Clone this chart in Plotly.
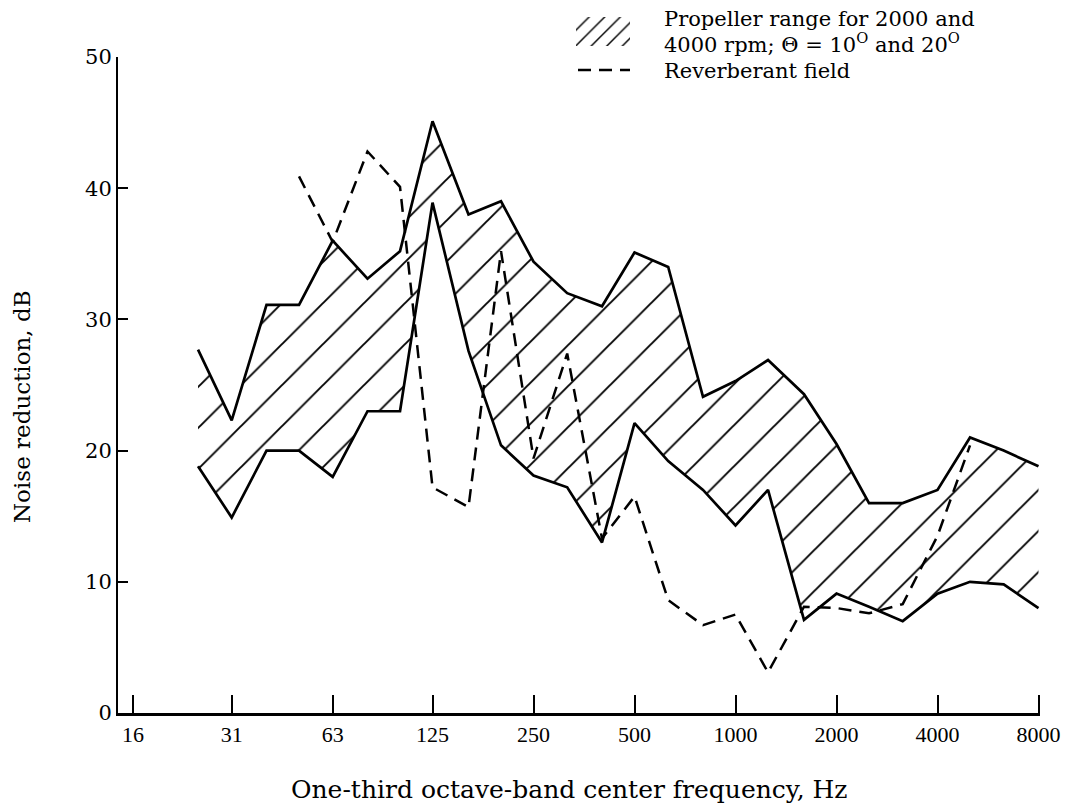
import math
import plotly.graph_objects as go

# One-third octave-band centre frequencies (Hz) for the propeller envelope
bands = [25, 31.5, 40, 50, 63, 80, 100, 125, 160, 200, 250, 315, 400, 500,
         630, 800, 1000, 1250, 1600, 2000, 2500, 3150, 4000, 5000, 6300, 8000]
# Upper and lower bounds of the propeller noise-reduction range (dB)
upper = [27.7, 22.3, 31.1, 31.1, 36.0, 33.1, 35.2, 45.1, 38.0, 39.0, 34.4, 32.0, 31.0,
         35.1, 34.0, 24.1, 25.3, 26.9, 24.3, 20.5, 16.0, 16.0, 17.0, 21.0, 20.0, 18.8]
lower = [18.8, 14.9, 20.0, 20.0, 18.0, 23.0, 23.0, 38.9, 27.6, 20.4, 18.1, 17.2, 13.0,
         22.1, 19.2, 17.0, 14.3, 17.0, 7.1, 9.1, 8.1, 7.0, 9.1, 10.0, 9.8, 8.0]

# Reverberant-field noise reduction (dB)
rev_bands = [50, 63, 80, 100, 125, 160, 200, 250, 315, 400, 500, 630, 800, 1000,
             1250, 1600, 2000, 2500, 3150, 4000, 5000]
rev = [40.9, 35.9, 42.8, 40.1, 17.2, 15.7, 35.2, 19.4, 27.4, 13.3, 16.5, 8.6, 6.7, 7.5,
       3.1, 8.1, 8.0, 7.6, 8.3, 13.5, 20.4]

# Octave tick positions and their labels
tick_freqs = [16, 31.5, 63, 125, 250, 500, 1000, 2000, 4000, 8000]
tick_text = ["16", "31", "63", "125", "250", "500", "1000", "2000", "4000", "8000"]
y_ticks = [0, 10, 20, 30, 40, 50]

W, H = 1076, 806
L, R, T, B = 118, 36, 0, 93
PW, PH = W - L - R, H - T - B

FONT = "DejaVu Serif"
XTICK_FONT = "Liberation Serif"


def fx(px):
    return (px - L) / PW


def fy(py):
    return (H - B - py) / PH


# log-axis range: 16 Hz sits a little right of the y axis, 8000 Hz at the right end
scale = (1038.5 - 133) / (math.log10(8000) - math.log10(16))
x_lo = math.log10(16) - (133 - L) / scale
x_hi = math.log10(8000) + (L + PW - 1038.5) / scale

HATCH = dict(shape="/", fgcolor="black", bgcolor="rgba(0,0,0,0)", fgopacity=1)

fig = go.Figure()

# hatched envelope between the upper and lower bounds
fig.add_trace(go.Scatter(
    x=bands + bands[::-1], y=upper + lower[::-1],
    mode="lines", fill="toself",
    fillcolor="rgba(0,0,0,0)",
    fillpattern=dict(HATCH, size=29, solidity=0.065),
    line=dict(width=0, color="rgba(0,0,0,0)"),
    hoverinfo="skip", showlegend=False,
))
for series in (upper, lower):
    fig.add_trace(go.Scatter(
        x=bands, y=series, mode="lines",
        line=dict(color="black", width=2.7),
        showlegend=False,
    ))

fig.add_trace(go.Scatter(
    x=rev_bands, y=rev, mode="lines",
    line=dict(color="black", width=2.5, dash="13px,8px"),
    showlegend=False,
))

# key: hatched swatch and dashed sample, drawn on a pixel-scaled overlay
fig.add_trace(go.Scatter(
    x=[576, 630, 630, 576, 576], y=[17, 17, 46, 46, 17],
    xaxis="x2", yaxis="y2", mode="lines", fill="toself",
    fillcolor="rgba(0,0,0,0)",
    fillpattern=dict(HATCH, size=11, solidity=0.13),
    line=dict(width=0, color="rgba(0,0,0,0)"),
    hoverinfo="skip", showlegend=False,
))
fig.add_trace(go.Scatter(
    x=[578, 630], y=[70, 70], xaxis="x2", yaxis="y2", mode="lines",
    line=dict(color="black", width=2.5, dash="13px,8px"),
    hoverinfo="skip", showlegend=False,
))

fig.update_layout(
    template="none",
    width=W, height=H,
    margin=dict(l=L, r=R, t=T, b=B, pad=0, autoexpand=False),
    paper_bgcolor="white", plot_bgcolor="white",
    font=dict(family=FONT, color="black"),
    xaxis=dict(
        type="log", range=[x_lo, x_hi], domain=[0, 1],
        tickvals=tick_freqs, ticktext=tick_text,
        ticks="inside", ticklen=18, tickwidth=1.6, tickcolor="black",
        showline=True, linecolor="black", linewidth=2.6,
        showgrid=False, zeroline=False, automargin=False,
        tickfont=dict(family=XTICK_FONT, size=22, color="black"),
        anchor="y",
    ),
    yaxis=dict(
        range=[0, 50], domain=[0, fy(57)],
        tickvals=y_ticks,
        ticks="inside", ticklen=10, tickwidth=1.6, tickcolor="black",
        showline=True, linecolor="black", linewidth=2,
        showgrid=False, zeroline=False, automargin=False,
        tickfont=dict(family=FONT, size=21, color="black"),
        anchor="x",
    ),
    xaxis2=dict(domain=[fx(570), fx(640)], range=[570, 640], visible=False,
                anchor="y2", fixedrange=True, automargin=False),
    yaxis2=dict(domain=[fy(80), fy(5)], range=[80, 5], visible=False,
                anchor="x2", fixedrange=True, automargin=False),
    annotations=[
        dict(text="Propeller range for 2000 and", x=fx(662), y=fy(19),
             xref="paper", yref="paper", xanchor="left", yanchor="middle",
             showarrow=False, font=dict(family=FONT, size=21)),
        dict(text="4000 rpm; \u0398 = 10<sup>O</sup> and 20<sup>O</sup>", x=fx(662), y=fy(43),
             xref="paper", yref="paper", xanchor="left", yanchor="middle",
             showarrow=False, font=dict(family=FONT, size=21)),
        dict(text="Reverberant field", x=fx(662), y=fy(71),
             xref="paper", yref="paper", xanchor="left", yanchor="middle",
             showarrow=False, font=dict(family=FONT, size=21)),
        dict(text="Noise reduction, dB", x=fx(22), y=fy(407), textangle=-90,
             xref="paper", yref="paper", xanchor="center", yanchor="middle",
             showarrow=False, font=dict(family=FONT, size=23)),
        dict(text="One-third octave-band center frequency, Hz", x=fx(569), y=fy(790),
             xref="paper", yref="paper", xanchor="center", yanchor="middle",
             showarrow=False, font=dict(family=FONT, size=25)),
    ],
)

fig.write_html("out.html")
